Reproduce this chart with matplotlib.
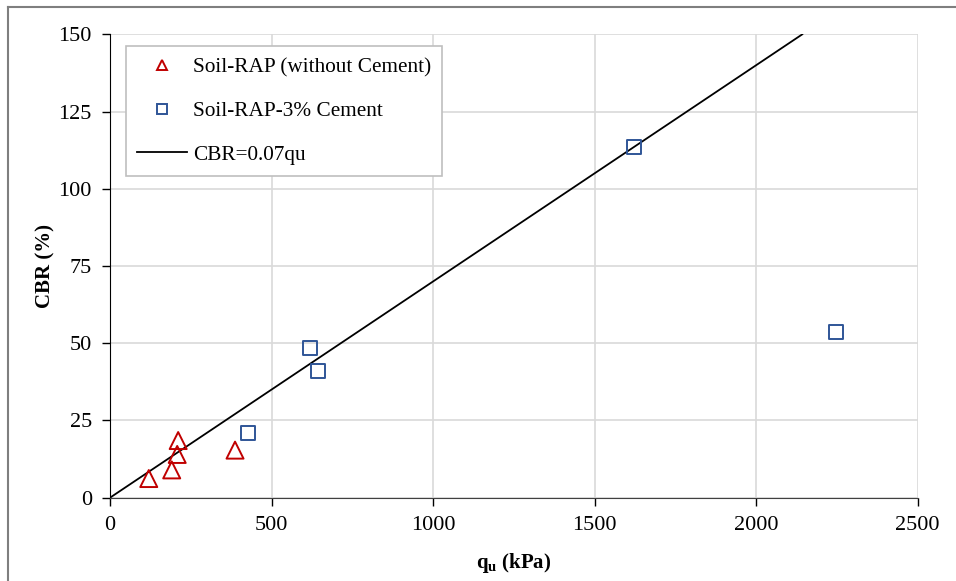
import matplotlib
matplotlib.use("Agg")
import matplotlib.pyplot as plt
from matplotlib.lines import Line2D
import numpy as np

plt.rcParams['font.family'] = ['Liberation Serif', 'DejaVu Serif']
plt.rcParams['mathtext.fontset'] = 'custom'
plt.rcParams['mathtext.rm'] = 'Liberation Serif'
plt.rcParams['mathtext.bf'] = 'Liberation Serif:bold'

# Data
qu_nocement = [120, 191, 208, 211, 387]
cbr_nocement = [6.2, 9.0, 14.0, 18.5, 15.4]
qu_cement = [426, 619, 644, 1622, 2246]
cbr_cement = [20.9, 48.5, 41.0, 113.6, 53.6]
slope = 0.07
x_ticks = [0, 500, 1000, 1500, 2000, 2500]
y_ticks = [0, 25, 50, 75, 100, 125, 150]

fig = plt.figure(figsize=(9.56, 5.81), dpi=100)
ax = fig.add_axes([110/956, 1-497.7/581, (917.7-110)/956, (497.7-34.3)/581])

# figure frame (left and top only visible)
fig.add_artist(Line2D([8/956, 8/956], [0, 1-7/581], transform=fig.transFigure, color='#7f7f7f', lw=1.5))
fig.add_artist(Line2D([8/956, 1], [1-7/581, 1-7/581], transform=fig.transFigure, color='#7f7f7f', lw=1.5))

ax.set_xlim(0, 2500)
ax.set_ylim(0, 150)
ax.set_xticks(x_ticks)
ax.set_yticks(y_ticks)
ax.grid(True, color='#d9d9d9', lw=1.2)
ax.set_axisbelow(True)
for s in ['top', 'right']:
    ax.spines[s].set_visible(False)
ax.spines['left'].set_color('#000000')
ax.spines['bottom'].set_color('#404040')
ax.tick_params(axis='both', labelsize=16, length=6, width=1, direction='out')
ax.tick_params(axis='y', pad=7)
ax.tick_params(axis='x', pad=7)

xl = np.array([0, 150 / slope])
ax.plot(xl, slope * xl, color='black', lw=1.3, zorder=2)
ax.scatter(qu_nocement, cbr_nocement, marker='^', s=150, facecolors='none',
           edgecolors='#c00000', linewidths=1.4, zorder=3)
ax.scatter(qu_cement, cbr_cement, marker='s', s=105, facecolors='none',
           edgecolors='#2f5597', linewidths=1.4, zorder=3)

handles = [Line2D([], [], marker='^', ls='none', mfc='none', mec='#c00000', ms=7, mew=1.4),
           Line2D([], [], marker='s', ls='none', mfc='none', mec='#2f5597', ms=7, mew=1.4),
           Line2D([], [], color='black', lw=1.3)]
labels = ['Soil-RAP (without Cement)', 'Soil-RAP-3% Cement', 'CBR=0.07qu']
leg = ax.legend(handles, labels, loc='upper left', bbox_to_anchor=((125.7-110)/807.7, 1-(45.7-34.3)/463.4),
                fontsize=15.3, frameon=True, fancybox=False, edgecolor='#bfbfbf', framealpha=1,
                borderpad=0.55, labelspacing=1.12, handlelength=2.35, handletextpad=0.25, borderaxespad=0)
leg.get_frame().set_linewidth(1.2)

ax.set_xlabel(r'$\mathbf{q_u}$ (kPa)', fontsize=15, fontweight='bold', labelpad=12)
ax.set_ylabel('CBR (%)', fontsize=15, fontweight='bold', labelpad=2)

fig.savefig('out.png', dpi=100)
